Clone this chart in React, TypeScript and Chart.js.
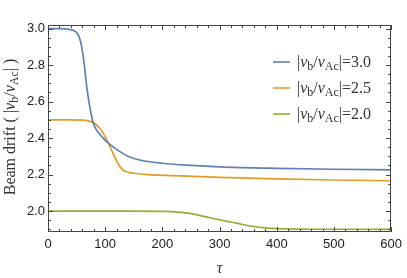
import React, { useEffect, useRef } from 'react';
import { Chart, registerables } from 'chart.js';
Chart.register(...registerables);

// ---- data ----
const blueTau = [0, 20, 35, 45, 50, 55, 60, 64, 67, 70, 73, 78, 82, 88, 95, 102, 120, 140, 160, 200, 250, 300, 400, 500, 600];
const blueVals = [3.0, 3.0, 2.997, 2.99, 2.978, 2.95, 2.88, 2.79, 2.7, 2.63, 2.573, 2.495, 2.46, 2.43, 2.405, 2.382, 2.338, 2.3, 2.28, 2.262, 2.25, 2.242, 2.234, 2.229, 2.226];

const orangeTau = [0, 40, 60, 70, 80, 90, 96, 105, 111, 116, 120, 125, 130, 137, 150, 175, 220, 300, 400, 500, 600];
const orangeVals = [2.5, 2.5, 2.498, 2.494, 2.484, 2.455, 2.43, 2.375, 2.336, 2.3, 2.275, 2.247, 2.228, 2.215, 2.207, 2.2, 2.194, 2.185, 2.176, 2.17, 2.166];

const greenTau = [0, 150, 200, 225, 250, 275, 300, 320, 340, 360, 380, 400, 430, 500, 600];
const greenVals = [2.0, 2.0, 1.998, 1.994, 1.986, 1.969, 1.952, 1.94, 1.926, 1.915, 1.908, 1.904, 1.901, 1.9, 1.899];

const seriesLabels = ['3.0', '2.5', '2.0'];
const seriesColors = ['#5E81B5', '#E19C24', '#8FB032'];
const xTicks = [0, 100, 200, 300, 400, 500, 600];
const yTicks = [2.0, 2.2, 2.4, 2.6, 2.8, 3.0];

type Seg = { t: string; it?: boolean; sub?: boolean };

function drawRich(ctx: CanvasRenderingContext2D, segs: Seg[], x: number, y: number, size: number, align: 'left' | 'center') {
  const fam = '"Liberation Serif", "Times New Roman", serif';
  const fontFor = (s: Seg) => `${s.it ? 'italic ' : ''}${s.sub ? Math.round(size * 0.72) : size}px ${fam}`;
  let total = 0;
  for (const s of segs) { ctx.font = fontFor(s); total += ctx.measureText(s.t).width; }
  let cx = align === 'center' ? x - total / 2 : x;
  ctx.textBaseline = 'alphabetic';
  ctx.textAlign = 'left';
  for (const s of segs) {
    ctx.font = fontFor(s);
    ctx.fillText(s.t, cx, y + (s.sub ? size * 0.2 : 0));
    cx += ctx.measureText(s.t).width;
  }
}

const framePlugin = {
  id: 'framePlugin',
  afterDraw(chart: any) {
    const { ctx, chartArea, scales } = chart;
    const { left, right, top, bottom } = chartArea;
    const x = scales.x, y = scales.y;
    ctx.save();
    ctx.strokeStyle = '#444';
    ctx.lineWidth = 1;
    ctx.beginPath();
    ctx.rect(Math.round(left) + 0.5, Math.round(top) + 0.5, Math.round(right - left) - 1, Math.round(bottom - top) - 1);
    ctx.stroke();
    ctx.beginPath();
    for (let i = 0; i <= 30; i++) {
      const v = i * 20;
      const px = Math.round(x.getPixelForValue(v)) + 0.5;
      const len = v % 100 === 0 ? 5 : 3;
      ctx.moveTo(px, bottom); ctx.lineTo(px, bottom - len);
      ctx.moveTo(px, top); ctx.lineTo(px, top + len);
    }
    for (let i = 38; i <= 60; i++) {
      const v = i * 0.05;
      const py = Math.round(y.getPixelForValue(v)) + 0.5;
      if (py < top || py > bottom) continue;
      const len = i % 4 === 0 ? 5 : 3;
      ctx.moveTo(left, py); ctx.lineTo(left + len, py);
      ctx.moveTo(right, py); ctx.lineTo(right - len, py);
    }
    ctx.stroke();

    // y title
    ctx.fillStyle = '#333';
    ctx.save();
    ctx.translate(15, 127);
    ctx.rotate(-Math.PI / 2);
    drawRich(ctx, [
      { t: 'Beam drift ( |' }, { t: 'v', it: true }, { t: 'b', sub: true }, { t: '/' },
      { t: 'v', it: true }, { t: 'Ac', sub: true }, { t: '| )' },
    ], 0, 0, 16, 'center');
    ctx.restore();

    // legend
    const rows = [62, 88, 114];
    seriesLabels.forEach((lab, i) => {
      const ry = rows[i];
      ctx.strokeStyle = seriesColors[i];
      ctx.lineWidth = 1.6;
      ctx.beginPath(); ctx.moveTo(273, ry); ctx.lineTo(290, ry); ctx.stroke();
      ctx.fillStyle = '#333';
      drawRich(ctx, [
        { t: '|' }, { t: 'v', it: true }, { t: 'b', sub: true }, { t: '/' },
        { t: 'v', it: true }, { t: 'Ac', sub: true }, { t: '|=' + lab },
      ], 297, ry + 5, 16, 'left');
    });
    ctx.restore();
  },
};

export default function App() {
  const ref = useRef<HTMLCanvasElement>(null);
  useEffect(() => {
    if (!ref.current) return;
    const mk = (tau: number[], vals: number[]) => tau.map((t, i) => ({ x: t, y: vals[i] }));
    const chart = new Chart(ref.current, {
      type: 'line',
      data: {
        datasets: [
          { data: mk(blueTau, blueVals), borderColor: seriesColors[0] },
          { data: mk(orangeTau, orangeVals), borderColor: seriesColors[1] },
          { data: mk(greenTau, greenVals), borderColor: seriesColors[2] },
        ].map((d) => ({ ...d, borderWidth: 1.7, pointRadius: 0, cubicInterpolationMode: 'monotone' as const, fill: false })),
      },
      options: {
        responsive: false,
        animation: false,
        layout: { padding: { top: 25, right: 14, left: 0, bottom: 0 } },
        plugins: { legend: { display: false }, tooltip: { enabled: false } },
        scales: {
          x: {
            type: 'linear', min: 0, max: 600,
            afterBuildTicks: (s: any) => { s.ticks = xTicks.map((v) => ({ value: v })); },
            afterFit: (s: any) => { s.height = 46; },
            grid: { display: false, drawTicks: false },
            border: { display: false },
            ticks: { padding: 5, color: '#222', font: { family: '"Liberation Sans", Arial, sans-serif', size: 13 }, callback: (v: any) => String(v) },
            title: { display: true, text: 'τ', color: '#333', padding: { top: 3, bottom: 0 }, font: { family: '"Liberation Serif", serif', size: 16, style: 'italic' } },
          },
          y: {
            type: 'linear', min: 1.885, max: 3.02,
            afterBuildTicks: (s: any) => { s.ticks = yTicks.map((v) => ({ value: v })); },
            afterFit: (s: any) => { s.width = 48; },
            grid: { display: false, drawTicks: false },
            border: { display: false },
            ticks: { padding: 3, color: '#222', font: { family: '"Liberation Sans", Arial, sans-serif', size: 13 }, callback: (v: any) => Number(v).toFixed(1) },
          },
        },
      },
      plugins: [framePlugin],
    });
    return () => chart.destroy();
  }, []);
  return (
    <div style={{ position: 'fixed', left: 0, top: 0, width: 407, height: 278, background: '#fff' }}>
      <canvas ref={ref} width={407} height={278} />
    </div>
  );
}
